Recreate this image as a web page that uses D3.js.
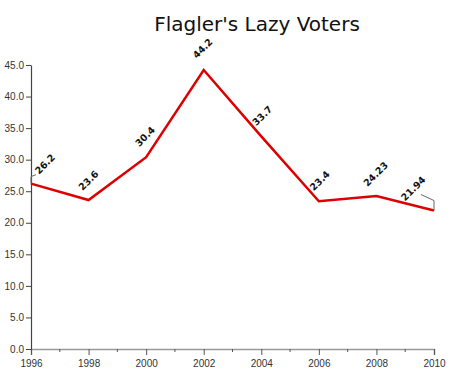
<!DOCTYPE html>
<html>
<head>
<meta charset="utf-8">
<script src="https://cdn.jsdelivr.net/npm/d3@7"></script>
<style>
  body { margin: 0; background: #fff; }
  svg { font-family: "DejaVu Sans", Verdana, sans-serif; }
</style>
</head>
<body>
<svg id="chart" width="450" height="373"></svg>
<script>
const years = [1996, 1998, 2000, 2002, 2004, 2006, 2008, 2010];
const voters = [26.2, 23.6, 30.4, 44.2, 33.7, 23.4, 24.23, 21.94];
const labels = ["26.2", "23.6", "30.4", "44.2", "33.7", "23.4", "24.23", "21.94"];
const yTicks = [0, 5, 10, 15, 20, 25, 30, 35, 40, 45];
const minorYears = [1997, 1999, 2001, 2003, 2005, 2007, 2009];

const svg = d3.select("#chart");
const margin = { left: 31, right: 16, top: 65, bottom: 24 };
const width = 450, height = 373;

const x = d3.scaleLinear().domain([1996, 2010]).range([margin.left, width - margin.right]);
const y = d3.scaleLinear().domain([0, 45]).range([height - margin.bottom, margin.top]);

svg.append("text")
    .attr("x", 257)
    .attr("y", 31)
    .attr("text-anchor", "middle")
    .style("font-size", "20px")
    .style("fill", "#111")
    .text("Flagler's Lazy Voters");

// x axis
const xAxis = svg.append("g")
    .attr("transform", `translate(0, ${y(0)})`)
    .call(d3.axisBottom(x).tickValues(years).tickFormat(d3.format("d")).tickSize(6));
xAxis.select(".domain").attr("stroke", "#999").attr("stroke-width", 1.5);
xAxis.selectAll(".tick line").attr("stroke", "#555");
xAxis.selectAll(".tick text").attr("fill", "#333").style("font-size", "10px").attr("dy", "0.9em");
xAxis.selectAll(".minor")
    .data(minorYears)
    .enter()
    .append("line")
    .attr("class", "minor")
    .attr("x1", d => x(d)).attr("x2", d => x(d))
    .attr("y1", 0).attr("y2", 3)
    .attr("stroke", "#555");

// y axis
const yAxis = svg.append("g")
    .attr("transform", `translate(${x(1996)}, 0)`)
    .call(d3.axisLeft(y).tickValues(yTicks).tickFormat(d3.format(".1f")).tickSize(5).tickSizeOuter(0));
yAxis.select(".domain").attr("stroke", "#444").attr("stroke-width", 1.2);
yAxis.selectAll(".tick line").attr("stroke", "#444");
yAxis.selectAll(".tick text").attr("fill", "#333").style("font-size", "10px").attr("x", -7);

// line
const points = years.map((yr, i) => ({ year: yr, value: voters[i], label: labels[i] }));
const line = d3.line().x(d => x(d.year)).y(d => y(d.value));
svg.append("path")
    .datum(points)
    .attr("d", line)
    .attr("fill", "none")
    .attr("stroke", "#dd0000")
    .attr("stroke-width", 2.5)
    .attr("stroke-linejoin", "miter");

// leader lines for the end labels
svg.append("polyline")
    .attr("points", `${x(1996)},${y(26.2)} ${x(1996)},${y(26.2) - 7} ${x(1996) + 5},${y(26.2) - 9}`)
    .attr("fill", "none").attr("stroke", "#666").attr("stroke-width", 1);
svg.append("polyline")
    .attr("points", `${x(2010)},${y(21.94)} ${x(2010)},${y(21.94) - 10} ${x(2010) - 13},${y(21.94) - 16}`)
    .attr("fill", "none").attr("stroke", "#666").attr("stroke-width", 1);

const offsets = [[8, -9], [-6, -9], [-7, -10], [-7, -11], [-5, -10], [-5, -10], [-9, -9], [-29, -9]];
svg.selectAll(".lbl")
    .data(points)
    .enter()
    .append("text")
    .attr("class", "lbl")
    .attr("transform", (d, i) => `translate(${x(d.year) + offsets[i][0]}, ${y(d.value) + offsets[i][1]}) rotate(-45)`)
    .style("font-size", "9.5px")
    .style("font-weight", "bold")
    .style("fill", "#111")
    .text(d => d.label);
</script>
</body>
</html>
